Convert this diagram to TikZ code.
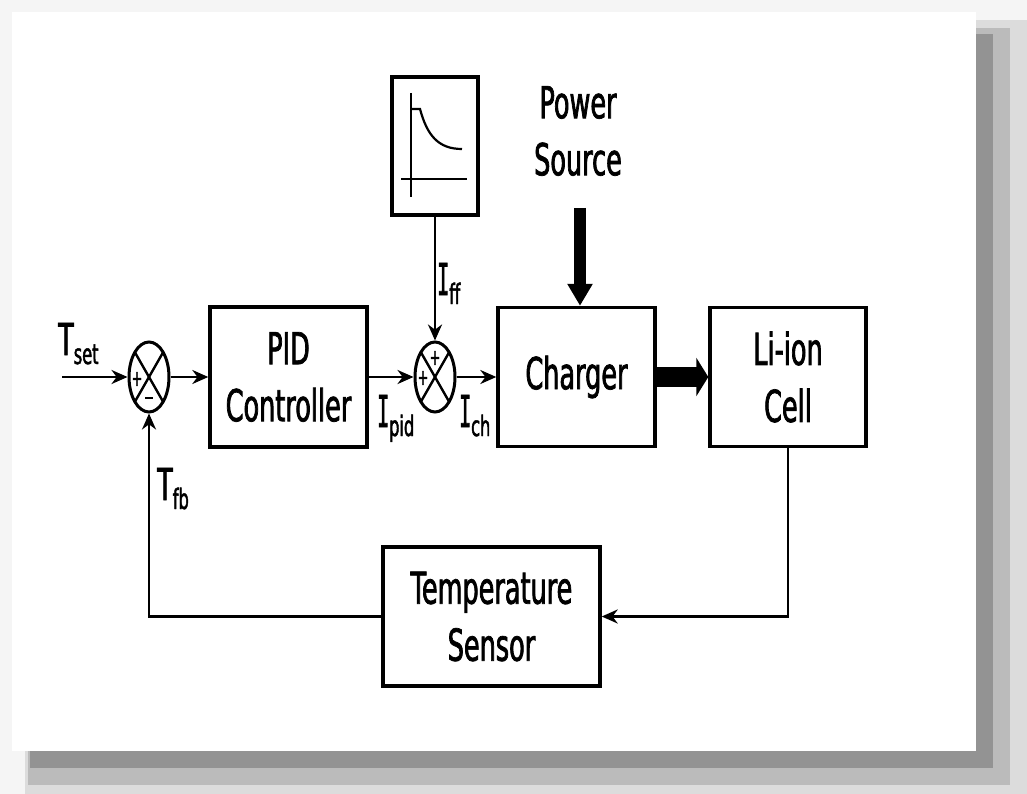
\documentclass[tikz,border=0pt]{standalone}
\usepackage{fontspec}
\setmainfont{DejaVu Sans}[FakeStretch=0.58,FakeBold=1.6]
\newfontfamily\serI{DejaVu Sans Mono}[FakeStretch=0.45,FakeBold=1.6]
\usetikzlibrary{arrows.meta,shapes.geometric,calc}
\newcommand\mainfs{\fontsize{44}{57}\selectfont}
\newcommand\sublab[2]{#1\raisebox{-9pt}{\fontsize{28}{28}\selectfont #2}}
\definecolor{shA}{HTML}{F5F5F5}
\definecolor{shB}{HTML}{DCDCDC}
\definecolor{shC}{HTML}{BBBBBB}
\definecolor{shD}{HTML}{939393}
\begin{document}
\begin{tikzpicture}[x=1pt,y=-1pt,
  blk/.style={draw, line width=3.4pt, rectangle, inner sep=0pt, align=center, font=\mainfs},
  sumj/.style={draw, ellipse, line width=3pt, minimum width=40pt, minimum height=70pt, inner sep=0pt},
  conn/.style={line width=2.8pt, -{Stealth[length=16pt,width=14pt]}},
  lbl/.style={anchor=base west, inner sep=0pt, font=\mainfs},
  sgn/.style={inner sep=0pt, font=\fontsize{22}{22}\selectfont},
  xline/.style={line width=2.4pt}
]
\useasboundingbox (0,0) rectangle (1027,794);
% frame with shadow
\fill[shA] (0,0) rectangle (1027,794);
\fill[shB] (25,20) rectangle (1027,794);
\fill[shC] (28,28) rectangle (1010,785);
\fill[shD] (30,34) rectangle (993,768);
\fill[white] (12,12) rectangle (976,751);

% blocks
\node[blk, minimum width=157pt, minimum height=140pt] (pid) at (288.5,377) {PID\\Controller};
\node[blk, minimum width=157pt, minimum height=139pt] (chg) at (576.5,377) {Charger};
\node[blk, minimum width=156pt, minimum height=139pt] (cell) at (788,377) {Li-ion\\Cell};
\node[blk, minimum width=217pt, minimum height=139pt] (sens) at (491.5,616.5) {Temperature\\Sensor};
\node[blk, minimum width=86pt, minimum height=138pt] (ff) at (435,146) {};
\node[inner sep=0pt, align=center, font=\mainfs] (ps) at (578,131) {Power\\Source};

% feed-forward profile graph
\draw[line width=2.6pt] (411,93) -- (411,197);
\draw[line width=2.6pt] (401,179) -- (467,179);
\draw[line width=2.2pt] (411,109) -- (420,109) .. controls (427,135) and (438,149) .. (462,149);

% summing junctions
\node[sumj] (s1) at (149,377) {};
\node[sumj] (s2) at (435,377) {};
\foreach \s in {s1,s2}{
  \draw[xline] ($(\s)+(-14.1,-24.7)$) -- ($(\s)+(14.1,24.7)$);
  \draw[xline] ($(\s)+(14.1,-24.7)$) -- ($(\s)+(-14.1,24.7)$);
}
\node[sgn] (s1p) at ($(s1)+(-12,2)$) {+};
\node[sgn] (s1m) at ($(s1)+(0,21)$) {\rule{8pt}{2.6pt}};
\node[sgn] (s2p1) at ($(s2)+(0,-19)$) {+};
\node[sgn] (s2p2) at ($(s2)+(-12,1)$) {+};

% connectors
\coordinate (in) at (62,377);
\draw[conn] (in) -- (s1.west);
\draw[conn] (s1.east) -- (pid.west);
\draw[conn] (pid.east) -- (s2.west);
\draw[conn] (s2.east) -- (chg.west);
\draw[conn] (ff.south) -- (s2.north);
\draw[conn] (cell.south) |- (sens.east);
\draw[conn] (sens.west) -| (s1.south);
\coordinate (pstop) at (580,208);
\draw[line width=12pt, -{Triangle[length=22pt,width=24pt]}] (pstop) -- (chg.north -| pstop);
\draw[line width=20pt, -{Triangle[length=12pt,width=38pt]}] (chg.east) -- (cell.west);

% labels
\node[lbl] (tset) at (58,355) {\sublab{T}{set}};
\node[lbl] (tfb) at (157,500) {\sublab{T}{fb}};
\node[lbl] (ipid) at (377,427) {\sublab{{\serI I}}{pid}};
\node[lbl] (ich) at (459,427) {\sublab{{\serI I}}{ch}};
\node[lbl] (iff) at (437,295) {\sublab{{\serI I}}{ff}};
\end{tikzpicture}
\end{document}
